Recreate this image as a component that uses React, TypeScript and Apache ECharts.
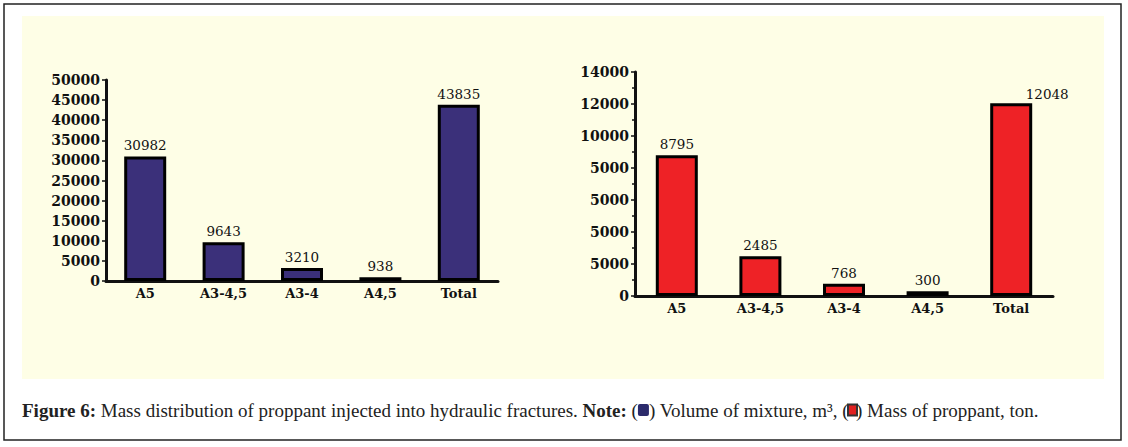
import React, { useEffect, useRef } from "react";
import * as echarts from "echarts";

const categories = ["A5", "A3-4,5", "A3-4", "A4,5", "Total"];
const volumeValues = [30982, 9643, 3210, 938, 43835];
const massValues = [8795, 2485, 768, 300, 12048];
const rightTickLabels: Record<number, string> = {
  0: "0",
  2000: "5000",
  4000: "5000",
  6000: "5000",
  8000: "5000",
  10000: "10000",
  12000: "12000",
  14000: "14000",
};

const FONT = "DejaVu Serif";
const CAPTION_FONT = "Liberation Serif";

export default function App() {
  const ref = useRef<HTMLDivElement>(null);
  useEffect(() => {
    document.body.style.margin = "0";
    if (!ref.current) return;
    const chart = echarts.init(ref.current, undefined, { renderer: "svg" });
    const axisLabelY = { fontFamily: FONT, fontSize: 14, fontWeight: "bold" as const, color: "#111", margin: 6 };
    const axisLabelX = { fontFamily: FONT, fontSize: 13, fontWeight: "bold" as const, color: "#111", margin: 6 };
    const valueLabel = { show: true, position: "top" as const, fontFamily: FONT, fontSize: 13.5, color: "#111", distance: 4 };
    chart.setOption({
      animation: false,
      backgroundColor: "#ffffff",
      graphic: [
        {
          type: "rect",
          z: -10,
          shape: { x: 4, y: 4, width: 1117, height: 436 },
          style: { fill: "#ffffff", stroke: "#222", lineWidth: 1.5 },
        },
        {
          type: "rect",
          z: -9,
          shape: { x: 22, y: 16, width: 1082, height: 363 },
          style: { fill: "#fefee6" },
        },
        {
          type: "text",
          x: 22,
          y: 410,
          style: {
            text:
              "{b|Figure 6:} Mass distribution of proppant injected into hydraulic fractures. {b|Note:} ({nv| }) Volume of mixture, m³, ({rd| }) Mass of proppant, ton.",
            fontFamily: CAPTION_FONT,
            fontSize: 19,
            fill: "#222",
            verticalAlign: "middle",
            rich: {
              b: { fontFamily: CAPTION_FONT, fontSize: 19, fontWeight: "bold", fill: "#222" },
              nv: { backgroundColor: "#2b2a6b", width: 11, height: 12, borderRadius: 2 },
              rd: { backgroundColor: "#e02020", borderColor: "#333", borderWidth: 2, width: 7, height: 9 },
            },
          },
        },
      ],
      grid: [
        { left: 106, top: 80, width: 392, height: 201 },
        { left: 635, top: 72, width: 418, height: 224 },
      ],
      xAxis: [
        {
          type: "category",
          gridIndex: 0,
          data: categories,
          axisLine: { lineStyle: { color: "#111", width: 3 } },
          axisTick: { show: false },
          axisLabel: axisLabelX,
        },
        {
          type: "category",
          gridIndex: 1,
          data: categories,
          axisLine: { lineStyle: { color: "#111", width: 3 } },
          axisTick: { show: false },
          axisLabel: axisLabelX,
        },
      ],
      yAxis: [
        {
          type: "value",
          gridIndex: 0,
          min: 0,
          max: 50000,
          interval: 5000,
          axisLine: { show: true, lineStyle: { color: "#111", width: 3 } },
          axisTick: { show: true, length: 4, lineStyle: { color: "#111", width: 1.5 } },
          splitLine: { show: false },
          axisLabel: { ...axisLabelY, formatter: (v: number) => String(v) },
        },
        {
          type: "value",
          gridIndex: 1,
          min: 0,
          max: 14000,
          interval: 2000,
          axisLine: { show: true, lineStyle: { color: "#111", width: 3 } },
          axisTick: { show: true, length: 4, lineStyle: { color: "#111", width: 1.5 } },
          minorTick: { show: true, splitNumber: 2, length: 3, lineStyle: { color: "#111", width: 1.5 } },
          splitLine: { show: false },
          axisLabel: {
            ...axisLabelY,
            formatter: (v: number) => rightTickLabels[v] ?? String(v),
          },
        },
      ],
      series: [
        {
          type: "bar",
          xAxisIndex: 0,
          yAxisIndex: 0,
          data: volumeValues,
          barWidth: 42,
          itemStyle: { color: "#3b307a", borderColor: "#000", borderWidth: 3 },
          label: valueLabel,
        },
        {
          type: "bar",
          xAxisIndex: 1,
          yAxisIndex: 1,
          data: massValues.map((v, i) =>
            i === massValues.length - 1
              ? { value: v, label: { offset: [36, 2] } }
              : v
          ),
          barWidth: 42,
          itemStyle: { color: "#ee2226", borderColor: "#000", borderWidth: 3 },
          label: valueLabel,
        },
      ],
    });
    return () => chart.dispose();
  }, []);
  return <div ref={ref} style={{ width: 1128, height: 447 }} />;
}
